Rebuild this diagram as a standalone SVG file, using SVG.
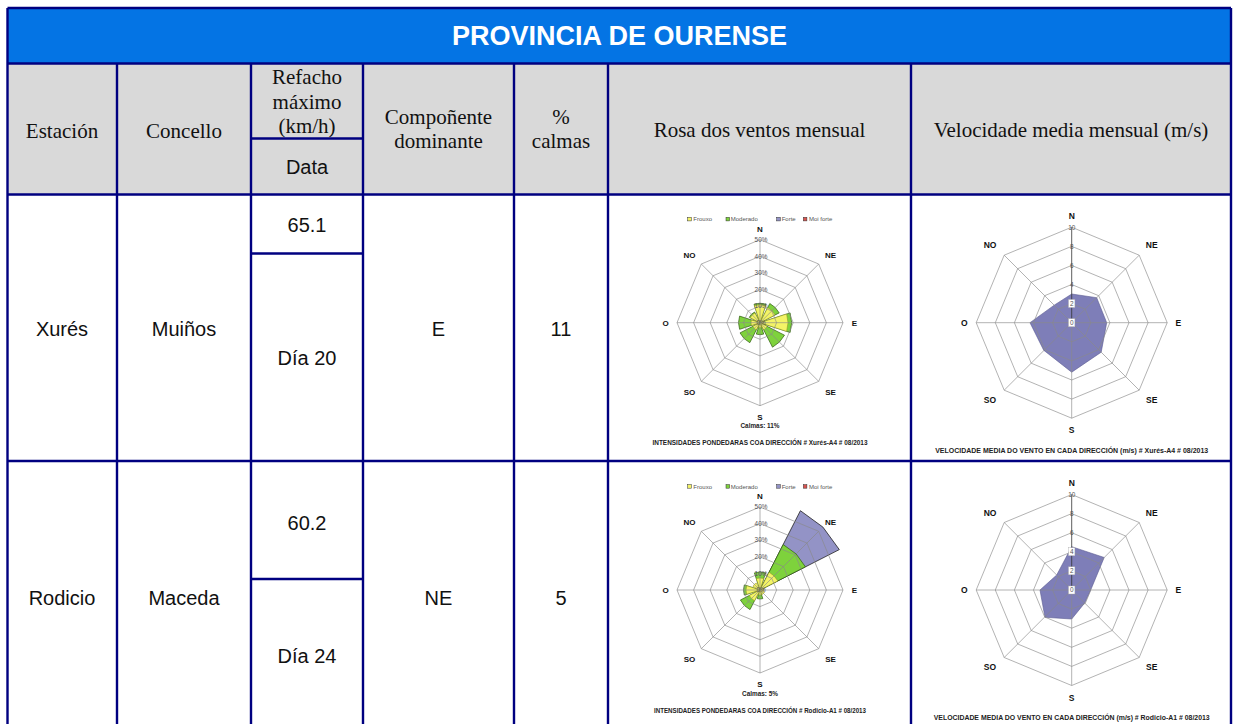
<svg xmlns="http://www.w3.org/2000/svg" width="1233" height="724" viewBox="0 0 1233 724">
<defs>
<style>
.serif{font-family:"Liberation Serif","Times New Roman",serif;font-size:21px;fill:#111;text-anchor:middle}
.sans{font-family:"Liberation Sans",Arial,sans-serif;font-size:20px;fill:#111;text-anchor:middle}
.ttl{font-family:"Liberation Sans",Arial,sans-serif;font-size:27px;font-weight:bold;fill:#fff;text-anchor:middle}
.tl{stroke:#000080;stroke-width:2.4;fill:none}
.grid{stroke:#8a8a8a;stroke-width:0.65;fill:none}
.dir{font-family:"Liberation Sans",Arial,sans-serif;font-size:8px;font-weight:bold;fill:#111;text-anchor:middle}
.vdir{font-family:"Liberation Sans",Arial,sans-serif;font-size:8.5px;font-weight:bold;fill:#111;text-anchor:middle}
.pct{font-family:"Liberation Sans",Arial,sans-serif;font-size:6.4px;fill:#555;text-anchor:middle}
.cap{font-family:"Liberation Sans",Arial,sans-serif;font-size:6.4px;font-weight:bold;fill:#222;text-anchor:middle}
.leg{font-family:"Liberation Sans",Arial,sans-serif;font-size:6px;fill:#555}
.yel{fill:#F4F466;stroke:#8a8a20;stroke-width:0.5}
.grn{fill:#7ED23C;stroke:#2f5a10;stroke-width:0.7}
.pur{fill:#9393C6;stroke:#222;stroke-width:0.8}
.vpoly{fill:#7E7EB8;stroke:#5a5a90;stroke-width:0.6}
.lbx{fill:#fff;stroke:#aaa;stroke-width:0.4}
</style>
<g id="roseGrid">
<polygon class="grid" points="0,-16.6 11.74,-11.74 16.6,0 11.74,11.74 0,16.6 -11.74,11.74 -16.6,0 -11.74,-11.74"/>
<polygon class="grid" points="0,-33.2 23.48,-23.48 33.2,0 23.48,23.48 0,33.2 -23.48,23.48 -33.2,0 -23.48,-23.48"/>
<polygon class="grid" points="0,-49.8 35.21,-35.21 49.8,0 35.21,35.21 0,49.8 -35.21,35.21 -49.8,0 -35.21,-35.21"/>
<polygon class="grid" points="0,-66.4 46.95,-46.95 66.4,0 46.95,46.95 0,66.4 -46.95,46.95 -66.4,0 -46.95,-46.95"/>
<polygon class="grid" points="0,-83 58.69,-58.69 83,0 58.69,58.69 0,83 -58.69,58.69 -83,0 -58.69,-58.69"/>
<path class="grid" d="M0,0V-83M0,0L58.69,-58.69M0,0H83M0,0L58.69,58.69M0,0V83M0,0L-58.69,58.69M0,0H-83M0,0L-58.69,-58.69"/>
</g>
<g id="roseLabels">
<rect x="-72.3" y="-105.4" width="3.6" height="3.6" fill="#F4F466" stroke="#333" stroke-width="0.5"/>
<text class="leg" x="-66.7" y="-101.4">Frouxo</text>
<rect x="-34" y="-105.4" width="3.6" height="3.6" fill="#7ED23C" stroke="#333" stroke-width="0.5"/>
<text class="leg" x="-29.3" y="-101.4">Moderado</text>
<rect x="16.7" y="-105.4" width="3.6" height="3.6" fill="#9393C6" stroke="#333" stroke-width="0.5"/>
<text class="leg" x="21.7" y="-101.4">Forte</text>
<rect x="43.3" y="-105.4" width="3.6" height="3.6" fill="#D9534F" stroke="#333" stroke-width="0.5"/>
<text class="leg" x="49" y="-101.4">Moi forte</text>
<text class="dir" x="0" y="-90.6">N</text>
<text class="dir" x="-70.5" y="-64.6">NO</text>
<text class="dir" x="70.5" y="-64.6">NE</text>
<text class="dir" x="-94.5" y="3.4">O</text>
<text class="dir" x="94.5" y="3.4">E</text>
<text class="dir" x="-70.5" y="71.9">SO</text>
<text class="dir" x="70.5" y="71.9">SE</text>
<text class="dir" x="0" y="97.4">S</text>
<text class="pct" x="1" y="-80.8">50%</text>
<text class="pct" x="1" y="-64.2">40%</text>
<text class="pct" x="1" y="-47.6">30%</text>
<text class="pct" x="1" y="-31">20%</text>
<text class="pct" x="1" y="-14.4">10%</text>
<text class="pct" x="1" y="2.2">0%</text>
</g>
<g id="velGrid">
<polygon class="grid" points="0,-19.1 13.5,-13.5 19.1,0 13.5,13.5 0,19.1 -13.5,13.5 -19.1,0 -13.5,-13.5"/>
<polygon class="grid" points="0,-38.2 27,-27 38.2,0 27,27 0,38.2 -27,27 -38.2,0 -27,-27"/>
<polygon class="grid" points="0,-57.3 40.5,-40.5 57.3,0 40.5,40.5 0,57.3 -40.5,40.5 -57.3,0 -40.5,-40.5"/>
<polygon class="grid" points="0,-76.4 54,-54 76.4,0 54,54 0,76.4 -54,54 -76.4,0 -54,-54"/>
<polygon class="grid" points="0,-95.5 67.5,-67.5 95.5,0 67.5,67.5 0,95.5 -67.5,67.5 -95.5,0 -67.5,-67.5"/>
<path class="grid" d="M0,0L67.5,-67.5M0,0H95.5M0,0L67.5,67.5M0,0V95.5M0,0L-67.5,67.5M0,0H-95.5M0,0L-67.5,-67.5"/>
<path d="M0,0V-95.5" stroke="#333" stroke-width="0.8"/>
</g>
<g id="velLabels">
<text class="vdir" x="0" y="-103.8">N</text>
<text class="vdir" x="-81.7" y="-74.3">NO</text>
<text class="vdir" x="80" y="-74.3">NE</text>
<text class="vdir" x="-107.5" y="3.1">O</text>
<text class="vdir" x="106.6" y="3.1">E</text>
<text class="vdir" x="-81.7" y="80.4">SO</text>
<text class="vdir" x="80" y="80.4">SE</text>
<text class="vdir" x="0" y="110.5">S</text>
<text class="pct" x="0" y="-93.2">10</text>
<text class="pct" x="0" y="-74.1">8</text>
<text class="pct" x="0" y="-55">6</text>
</g>
</defs>

<rect x="0" y="0" width="1233" height="724" fill="#fff"/>

<g id="title">
<rect x="7.5" y="8" width="1223.5" height="55.5" fill="#0474E4"/>
<text class="ttl" x="619.5" y="45">PROVINCIA DE OURENSE</text>
</g>

<g id="header">
<rect x="7.5" y="63.5" width="1223.5" height="131" fill="#D9D9D9"/>
<text class="serif" x="62" y="137.5">Estación</text>
<text class="serif" x="184" y="137.5">Concello</text>
<text class="serif" x="307" y="84">Refacho</text>
<text class="serif" x="307" y="108.5">máximo</text>
<text class="serif" x="307" y="133">(km/h)</text>
<text class="sans" x="307" y="174">Data</text>
<text class="serif" x="438.5" y="124">Compoñente</text>
<text class="serif" x="438.5" y="148.3">dominante</text>
<text class="serif" x="561" y="124">%</text>
<text class="serif" x="561" y="148.3">calmas</text>
<text class="serif" x="759.5" y="137">Rosa dos ventos mensual</text>
<text class="serif" x="1071" y="137">Velocidade media mensual (m/s)</text>
</g>

<g id="row-xures">
<text class="sans" x="62" y="335.5">Xurés</text>
<text class="sans" x="184" y="335.5">Muiños</text>
<text class="sans" x="307" y="231.5">65.1</text>
<text class="sans" x="307" y="365">Día 20</text>
<text class="sans" x="438.5" y="335.5">E</text>
<text class="sans" x="561" y="335.5">11</text>
</g>

<g id="row-rodicio">
<text class="sans" x="62" y="604.5">Rodicio</text>
<text class="sans" x="184" y="604.5">Maceda</text>
<text class="sans" x="307" y="530">60.2</text>
<text class="sans" x="307" y="663">Día 24</text>
<text class="sans" x="438.5" y="604.5">NE</text>
<text class="sans" x="561" y="604.5">5</text>
</g>

<g id="rose-xures" transform="translate(760,322.7)">
<polygon class="grn" points="0,0 -6,-18.5 0,-19.5 6,-18.5"/>
<polygon class="grn" points="0,0 9.8,-19.2 15.2,-15.2 19.2,-9.8"/>
<polygon class="grn" points="0,0 30.1,-9.8 31.7,0 30.1,9.8"/>
<polygon class="grn" points="0,0 24.5,12.5 19.4,19.4 12.5,24.5"/>
<polygon class="grn" points="0,0 3.7,11.4 0,12 -3.7,11.4"/>
<polygon class="grn" points="0,0 -10.2,20 -15.9,15.9 -20,10.2"/>
<polygon class="grn" points="0,0 -20.4,6.6 -21.5,0 -20.4,-6.6"/>
<polygon class="grn" points="0,0 -10.7,-5.4 -8.5,-8.5 -5.4,-10.7"/>
<polygon class="yel" points="0,0 -5.6,-17.1 0,-18 5.6,-17.1"/>
<polygon class="yel" points="0,0 7.7,-15.1 12,-12 15.1,-7.7"/>
<polygon class="yel" points="0,0 26.6,-8.7 28,0 26.6,8.7"/>
<polygon class="yel" points="0,0 7.1,3.6 5.7,5.7 3.6,7.1"/>
<polygon class="yel" points="0,0 1.5,4.8 0,5 -1.5,4.8"/>
<polygon class="yel" points="0,0 -3.6,7.1 -5.7,5.7 -7.1,3.6"/>
<polygon class="yel" points="0,0 -8.6,2.8 -9,0 -8.6,-2.8"/>
<polygon class="yel" points="0,0 -9.8,-5 -7.8,-7.8 -5,-9.8"/>
<use href="#roseGrid"/>
<use href="#roseLabels"/>
<text class="cap" x="0" y="105.6">Calmas: 11%</text>
<text class="cap" x="0" y="122.8" textLength="215" lengthAdjust="spacingAndGlyphs">INTENSIDADES PONDEDARAS COA DIRECCIÓN # Xurés-A4 # 08/2013</text>
</g>

<g id="rose-rodicio" transform="translate(760,590)">
<polygon class="pur" points="0,0 40.4,-79.3 62.9,-62.9 79.3,-40.4"/>
<polygon class="grn" points="0,0 -5.6,-17.1 0,-18 5.6,-17.1"/>
<polygon class="grn" points="0,0 23.2,-45.4 36.1,-36.1 45.4,-23.2"/>
<polygon class="grn" points="0,0 2.8,8.6 0,9 -2.8,8.6"/>
<polygon class="grn" points="0,0 -10,19.6 -15.6,15.6 -19.6,10"/>
<polygon class="grn" points="0,0 -15.7,5.1 -16.5,0 -15.7,-5.1"/>
<polygon class="yel" points="0,0 -3.7,-11.4 0,-12 3.7,-11.4"/>
<polygon class="yel" points="0,0 9.1,-17.8 14.1,-14.1 17.8,-9.1"/>
<polygon class="yel" points="0,0 3.8,-1.2 4,0 3.8,1.2"/>
<polygon class="yel" points="0,0 4.5,2.3 3.5,3.5 2.3,4.5"/>
<polygon class="yel" points="0,0 1.5,4.8 0,5 -1.5,4.8"/>
<polygon class="yel" points="0,0 -5.4,10.7 -8.5,8.5 -10.7,5.4"/>
<polygon class="yel" points="0,0 -13.3,4.3 -14,0 -13.3,-4.3"/>
<polygon class="yel" points="0,0 -7.1,-3.6 -5.7,-5.7 -3.6,-7.1"/>
<use href="#roseGrid"/>
<use href="#roseLabels"/>
<text class="cap" x="0" y="105.6">Calmas: 5%</text>
<text class="cap" x="0" y="122.8" textLength="212" lengthAdjust="spacingAndGlyphs">INTENSIDADES PONDEDARAS COA DIRECCIÓN # Rodicio-A1 # 08/2013</text>
</g>

<g id="vel-xures" transform="translate(1071.7,322.7)">
<polygon class="vpoly" points="0,-28.7 25,-25 35,0 29.5,29.5 0,49.5 -28,27.5 -41.7,0 -17.5,-17.5"/>
<use href="#velGrid"/>
<use href="#velLabels"/>
<text class="pct" x="0" y="-36">4</text>
<rect class="lbx" x="-3.2" y="-23.2" width="6.4" height="8"/>
<text class="pct" x="0" y="-16.9">2</text>
<rect class="lbx" x="-3.2" y="-4" width="6.4" height="8"/>
<text class="pct" x="0" y="2.2">0</text>
<text class="cap" x="0" y="130" textLength="273" lengthAdjust="spacingAndGlyphs">VELOCIDADE MEDIA DO VENTO EN CADA DIRECCIÓN (m/s) # Xurés-A4 # 08/2013</text>
</g>

<g id="vel-rodicio" transform="translate(1071.7,590)">
<polygon class="vpoly" points="0,-43.3 32.5,-32.5 19,0 13,13 0,29 -26.7,27.3 -31.7,0 -15,-15"/>
<use href="#velGrid"/>
<use href="#velLabels"/>
<rect class="lbx" x="-3.2" y="-42.3" width="6.4" height="8"/>
<text class="pct" x="0" y="-36">4</text>
<rect class="lbx" x="-3.2" y="-23.2" width="6.4" height="8"/>
<text class="pct" x="0" y="-16.9">2</text>
<rect class="lbx" x="-3.2" y="-4" width="6.4" height="8"/>
<text class="pct" x="0" y="2.2">0</text>
<text class="cap" x="0" y="130" textLength="276" lengthAdjust="spacingAndGlyphs">VELOCIDADE MEDIA DO VENTO EN CADA DIRECCIÓN (m/s) # Rodicio-A1 # 08/2013</text>
</g>

<g id="table-lines" class="tl">
<path d="M7.5,8H1231M7.5,63.5H1231M7.5,194.5H1231M7.5,461H1231"/>
<path d="M251,138.5H363M251,253.5H363M251,579H363"/>
<path d="M7.5,8V726M1231,8V726"/>
<path d="M117,63.5V726M251,63.5V726M363,63.5V726M514,63.5V726M608,63.5V726M911,63.5V726"/>
</g>
</svg>
